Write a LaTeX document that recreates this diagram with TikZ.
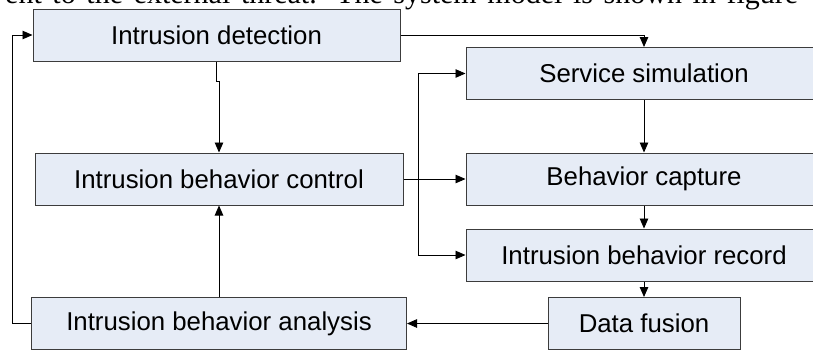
\documentclass[tikz,border=0pt]{standalone}
\usepackage{fontspec}
\setmainfont{Liberation Sans}
\newfontfamily\hdrserif{Liberation Serif}
\usetikzlibrary{arrows.meta,calc}
\definecolor{boxfill}{RGB}{230,236,246}
\definecolor{boxline}{RGB}{60,60,60}
\tikzset{
  blk/.style={draw=boxline, fill=boxfill, line width=1pt, inner sep=0pt,
    minimum height=52pt, font=\fontsize{25.8}{28}\selectfont, text=black},
  arr/.style={draw=black, line width=0.9pt, -{Triangle[length=10pt,width=8.5pt]}},
  ln/.style={draw=black, line width=0.9pt}
}
\begin{document}
\begin{tikzpicture}[x=1pt,y=-1pt]
\useasboundingbox (0,0) rectangle (813,349);
\clip (0,0) rectangle (813,349);
\node[anchor=base west, inner sep=0pt] (hdr) at (5,3.5)
  {\fontsize{30}{30}\hdrserif\makebox[793pt][s]{ent to the external threat. The system model is shown in figure}};
\node[blk, minimum width=367pt] (det) at (216.5,35) {Intrusion detection};
\node[blk, minimum width=368pt] (ctl) at (219,179) {Intrusion behavior control};
\node[blk, minimum width=375pt] (ana) at (219,323.5) {Intrusion behavior analysis};
\node[blk, minimum width=356pt] (svc) at (644,73.5) {Service simulation};
\node[blk, minimum width=356pt] (cap) at (644,179) {Behavior capture};
\node[blk, minimum width=356pt] (rec) at (644,255) {Intrusion behavior record};
\node[blk, minimum width=192pt] (fus) at (644,323.5) {Data fusion};
\coordinate (loop) at ($(ana.west)+(-19,0)$);
\coordinate (bus) at ($(ctl.east)+(15,0)$);
\draw[arr] (ana.west) -- (loop) |- (det.west);
\draw[arr] (det.east) -| (svc.north);
\draw[arr] (det.south) -- ++(0,20) -| (ctl.north);
\draw[arr] (ana.north) -- (ctl.south);
\draw[arr] (ctl.east) -- (cap.west);
\draw[ln] (bus) -- ++(0,-104);
\draw[arr] (bus) |- (svc.west);
\draw[arr] (bus) |- (rec.west);
\draw[arr] (svc.south) -- (cap.north);
\draw[arr] (cap.south) -- (rec.north);
\draw[arr] (rec.south) -- (fus.north);
\draw[arr] (fus.west) -- (ana.east);
\end{tikzpicture}
\end{document}
